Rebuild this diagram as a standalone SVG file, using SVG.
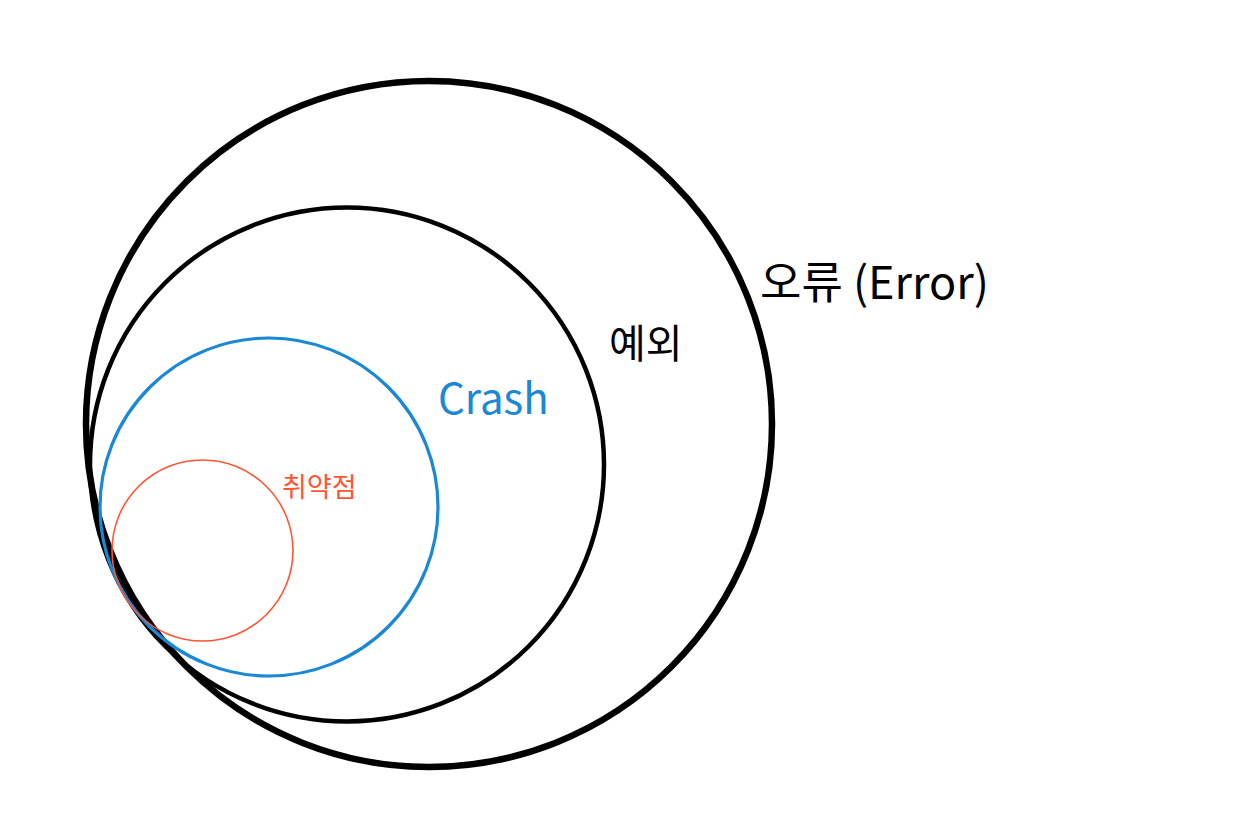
<svg xmlns="http://www.w3.org/2000/svg" width="1237" height="816" viewBox="0 0 1237 816">
<style>
.c{fill:none}
.t{font-family:"Noto Sans CJK KR","Noto Sans",sans-serif}
</style>
<rect width="1237" height="816" fill="#ffffff"/>
<g id="error">
<circle class="c" cx="429" cy="424" r="343" stroke="#000" stroke-width="6.5"/>
<text class="t" x="760" y="299" font-size="45" fill="#000">오류 (Error)</text>
</g>
<g id="exception">
<circle class="c" cx="347" cy="464.5" r="257" stroke="#000" stroke-width="4.5"/>
<text class="t" x="609" y="358" font-size="40" fill="#000">예외</text>
</g>
<g id="crash">
<circle class="c" cx="269" cy="507" r="169" stroke="#1a88d4" stroke-width="3.2"/>
<text class="t" x="438" y="414" font-size="42" fill="#1a88d4">Crash</text>
</g>
<g id="vuln">
<circle class="c" cx="202.5" cy="550.5" r="90.5" stroke="#ff5533" stroke-width="1.6"/>
<text class="t" x="282" y="497" font-size="27" fill="#ff5533">취약점</text>
</g>
<g id="connectors"></g>
</svg>
